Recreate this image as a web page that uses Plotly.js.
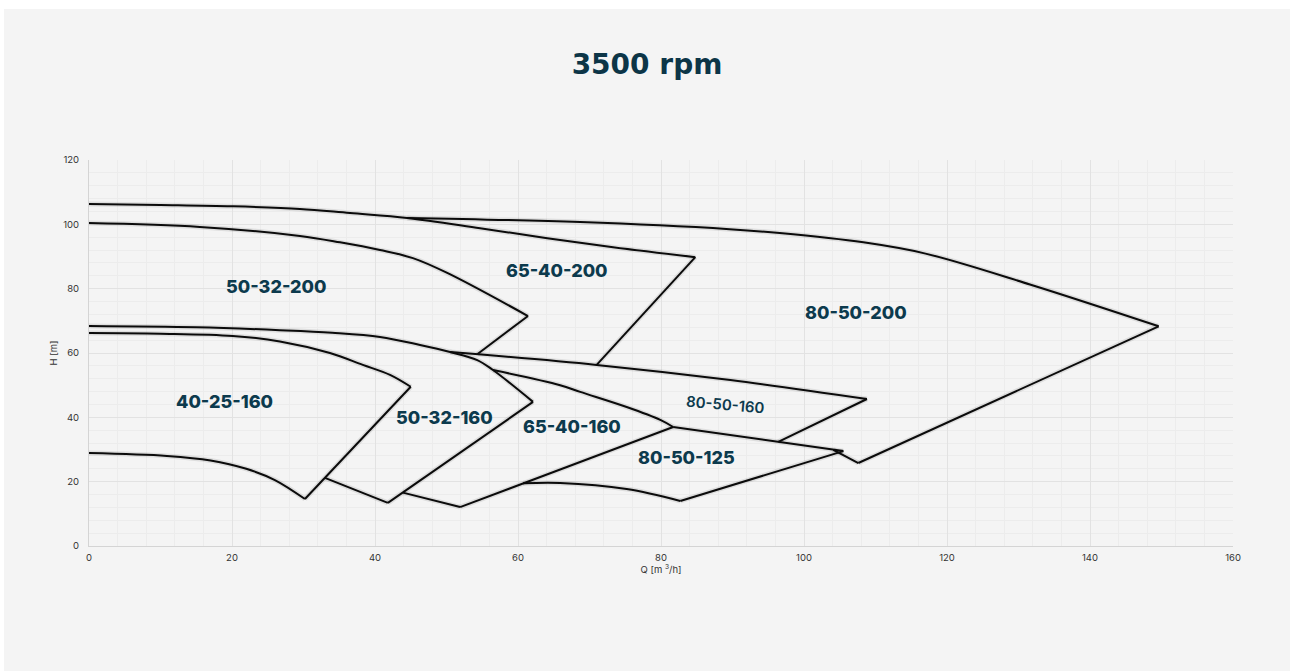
<!DOCTYPE html>
<html>
<head>
<meta charset="utf-8">
<script src="https://cdn.plot.ly/plotly-3.0.1.min.js"></script>
<style>
  html, body { margin: 0; padding: 0; background: #ffffff; width: 1290px; height: 671px; overflow: hidden; }
  #chart { position: absolute; left: 4px; top: 9px; width: 1286px; height: 662px; background: #f4f4f4; }
</style>
</head>
<body>
<div id="chart"></div>
<script>
// ---- Data (Q in m3/h, H in m) ----
const topMainQ = [0, 10, 20, 29.5, 36.5, 44.5, 54.7, 64.1, 73.3, 84.8];
const topMainH = [106.3, 106.0, 105.6, 104.8, 103.5, 102.0, 98.8, 95.7, 92.9, 89.8];

const edge65_40_200Q = [84.8, 71.0];
const edge65_40_200H = [89.8, 56.3];

const top80_50_200Q = [44.5, 68.7, 89.6, 96.6, 108.3, 117.0, 131.6, 149.6];
const top80_50_200H = [102.0, 100.7, 98.5, 97.3, 94.4, 90.9, 81.3, 68.3];

const edge80_50_200Q = [149.6, 107.6];
const edge80_50_200H = [68.3, 25.8];

const bot80_50_200Q = [104.1, 107.6];
const bot80_50_200H = [29.9, 25.8];

const top50_32_200Q = [0, 15.5, 29.5, 35.1, 40.7, 45.3, 50.1, 61.4];
const top50_32_200H = [100.4, 99.2, 96.4, 94.4, 92.0, 89.5, 84.9, 71.5];

const edge50_32_200Q = [61.4, 54.3];
const edge50_32_200H = [71.5, 59.6];

const top50_32_160Q = [0, 15, 26.7, 34.0, 40.7, 46.3, 50.5, 54.3, 56.5, 62.1];
const top50_32_160H = [68.4, 68.0, 67.1, 66.3, 65.0, 62.5, 60.3, 57.8, 54.7, 44.8];

const top80_50_160Q = [50.5, 71.0, 89.7, 108.8];
const top80_50_160H = [60.3, 56.3, 51.6, 45.7];

const edge80_50_160Q = [108.8, 96.4];
const edge80_50_160H = [45.7, 32.4];

const top65_40_160Q = [56.5, 65.9, 68.7, 75.2, 79.9, 81.7];
const top65_40_160H = [54.7, 50.0, 47.9, 43.2, 39.2, 37.0];

const top80_50_125Q = [81.7, 105.5];
const top80_50_125H = [37.0, 29.5];

const edge80_50_125Q = [105.5, 82.7];
const edge80_50_125H = [29.5, 14.0];

const bot80_50_125Q = [60.7, 65.9, 75.2, 82.7];
const bot80_50_125H = [19.5, 19.6, 17.7, 14.0];

const edge65_40_160Q = [81.7, 51.9];
const edge65_40_160H = [37.0, 12.1];

const bot65_40_160Q = [43.9, 51.9];
const bot65_40_160H = [16.6, 12.1];

const edge50_32_160Q = [62.1, 41.8];
const edge50_32_160H = [44.8, 13.4];

const bot50_32_160Q = [33.0, 41.8];
const bot50_32_160H = [21.2, 13.4];

const top40_25_160Q = [0, 10, 20.1, 26.7, 33.7, 38.3, 42.1, 45.0];
const top40_25_160H = [66.2, 66.0, 65.3, 63.6, 60.0, 56.3, 53.2, 49.5];

const edge40_25_160Q = [45.0, 30.2];
const edge40_25_160H = [49.5, 14.6];

const bot40_25_160Q = [0, 10.9, 17.0, 22.0, 26.0, 30.2];
const bot40_25_160H = [28.9, 28.0, 26.6, 24.0, 20.5, 14.6];

// Region labels
const labelNames = ["50-32-200", "65-40-200", "80-50-200", "40-25-160", "50-32-160", "65-40-160", "80-50-160", "80-50-125"];
const labelQ = [26.2, 65.5, 107.3, 19.0, 49.7, 67.6, 89.0, 83.5];
const labelH = [80.8, 85.5, 72.7, 44.8, 39.8, 37.0, 44.1, 27.4];

const xTickVals = [0, 20, 40, 60, 80, 100, 120, 140, 160];
const yTickVals = [0, 20, 40, 60, 80, 100, 120];

// ---- Build traces ----
const segments = [
  [topMainQ, topMainH, true],
  [edge65_40_200Q, edge65_40_200H, false],
  [top80_50_200Q, top80_50_200H, true],
  [edge80_50_200Q, edge80_50_200H, false],
  [bot80_50_200Q, bot80_50_200H, false],
  [top50_32_200Q, top50_32_200H, true],
  [edge50_32_200Q, edge50_32_200H, false],
  [top50_32_160Q, top50_32_160H, true],
  [top80_50_160Q, top80_50_160H, true],
  [edge80_50_160Q, edge80_50_160H, false],
  [top65_40_160Q, top65_40_160H, true],
  [top80_50_125Q, top80_50_125H, false],
  [edge80_50_125Q, edge80_50_125H, false],
  [bot80_50_125Q, bot80_50_125H, true],
  [edge65_40_160Q, edge65_40_160H, false],
  [bot65_40_160Q, bot65_40_160H, false],
  [edge50_32_160Q, edge50_32_160H, false],
  [bot50_32_160Q, bot50_32_160H, false],
  [top40_25_160Q, top40_25_160H, true],
  [edge40_25_160Q, edge40_25_160H, false],
  [bot40_25_160Q, bot40_25_160H, true]
];

const traces = [];
segments.forEach(s => {
  traces.push({
    x: s[0], y: s[1], type: 'scatter', mode: 'lines', hoverinfo: 'skip', showlegend: false,
    line: { color: 'rgba(0,0,0,0.09)', width: 5, shape: s[2] ? 'spline' : 'linear', smoothing: 1 }
  });
});
segments.forEach(s => {
  traces.push({
    x: s[0], y: s[1], type: 'scatter', mode: 'lines', showlegend: false,
    line: { color: '#0b0b0b', width: 2, shape: s[2] ? 'spline' : 'linear', smoothing: 1 }
  });
});

const annotations = labelNames.map((t, i) => {
  const small = t === '80-50-160';
  return {
    x: labelQ[i], y: labelH[i], xref: 'x', yref: 'y', text: t, showarrow: false,
    textangle: small ? 5 : 0,
    font: small
      ? { family: 'Inter, Lato, sans-serif', size: 15, color: '#0c3a4d', weight: 600 }
      : { family: 'Inter, Lato, sans-serif', size: 18, color: '#0c3a4d', weight: 800 }
  };
});

const layout = {
  width: 1286, height: 662,
  paper_bgcolor: '#f4f4f4', plot_bgcolor: '#f4f4f4',
  margin: { l: 85, r: 57, t: 151, b: 125 },
  showlegend: false,
  title: {
    text: '3500 rpm', x: 0.5, xanchor: 'center', xref: 'container',
    y: 0.917, yanchor: 'middle', yref: 'container',
    font: { family: '"DejaVu Sans", Inter, sans-serif', size: 28, color: '#0c3547', weight: 700 }
  },
  xaxis: {
    range: [0, 160], tickvals: xTickVals, ticks: '', showline: true, linecolor: '#d4d4d4', linewidth: 1,
    gridcolor: '#e2e2e2', gridwidth: 1, zeroline: false,
    minor: { dtick: 4, showgrid: true, gridcolor: '#ececec', gridwidth: 1 },
    tickfont: { family: 'Inter, sans-serif', size: 9.5, color: '#333' },
    ticklabelstandoff: 3,
    title: { text: 'Q [m <sup>3</sup>/h]', standoff: 2, font: { family: 'Inter, sans-serif', size: 9.5, color: '#333' } },
    fixedrange: true
  },
  yaxis: {
    range: [0, 120], tickvals: yTickVals, ticks: '', showline: true, linecolor: '#d4d4d4', linewidth: 1,
    gridcolor: '#e2e2e2', gridwidth: 1, zeroline: false,
    minor: { dtick: 4, showgrid: true, gridcolor: '#ececec', gridwidth: 1 },
    tickfont: { family: 'Inter, sans-serif', size: 9.5, color: '#333' },
    ticklabelstandoff: 7,
    title: { text: 'H [m]', standoff: 3, font: { family: 'Inter, sans-serif', size: 9.5, color: '#333' } },
    fixedrange: true
  },
  annotations: annotations
};

Plotly.newPlot('chart', traces, layout, { displayModeBar: false, staticPlot: true });
</script>
</body>
</html>
